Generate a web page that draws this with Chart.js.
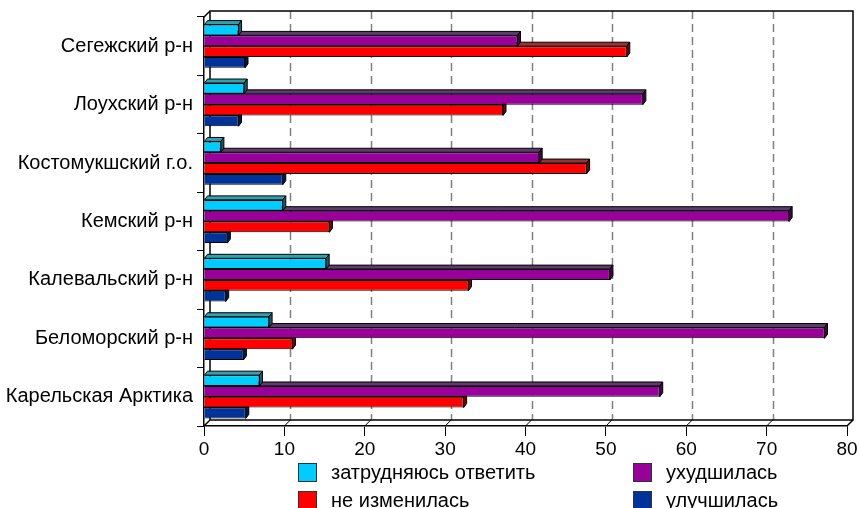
<!DOCTYPE html>
<html>
<head>
<meta charset="utf-8">
<script src="https://cdn.jsdelivr.net/npm/chart.js@4"></script>
<style>
  body { margin: 0; background: #fff; }
  #wrap { position: relative; width: 860px; height: 508px; }
  canvas { display: block; }
  #legend { position: absolute; left: 0; top: 0; font-family: "Liberation Sans", Arial, sans-serif; font-size: 20px; color: #000; }
  .item { position: absolute; display: flex; align-items: center; white-space: nowrap; height: 19px; }
  .box { width: 19px; height: 19px; box-sizing: border-box; border: 1.5px solid #333; margin-right: 14px; }
</style>
</head>
<body>
<div id="wrap">
  <canvas id="chart" width="860" height="508"></canvas>
  <div id="legend"></div>
</div>
<script>
const regions = ['Сегежский р-н', 'Лоухский р-н', 'Костомукшский г.о.', 'Кемский р-н', 'Калевальский р-н', 'Беломорский р-н', 'Карельская Арктика'];

const hardToSay = [4.3, 5.0, 2.1, 9.8, 15.2, 8.1, 6.9];
const worse = [39.0, 54.6, 41.7, 72.8, 50.5, 77.2, 56.7];
const same = [52.6, 37.2, 47.6, 15.6, 32.9, 11.0, 32.3];
const better = [5.1, 4.3, 9.8, 2.9, 2.7, 4.9, 5.2];

const xTicks = [0, 10, 20, 30, 40, 50, 60, 70, 80];

const series = [
    { label: 'затрудняюсь ответить', data: hardToSay, color: '#00CCFF', top: '#33A0B0', side: '#006680' },
    { label: 'ухудшилась', data: worse, color: '#990099', top: '#5E3B6E', side: '#4D004D' },
    { label: 'не изменилась', data: same, color: '#FF0000', top: '#993333', side: '#800000' },
    { label: 'улучшилась', data: better, color: '#003399', top: '#1F2E66', side: '#001A4D' }
];

// offsets for the fake 3d look
const WALL_DX = 6, WALL_DY = -6;
const BAR_DX = 3, BAR_DY = -4;

const depthPlugin = {
    id: 'depth',
    beforeDatasetsDraw(chart) {
        const ctx = chart.ctx;
        const area = chart.chartArea;
        const xs = chart.scales.x;
        ctx.save();

        // dashed grid lines on the back wall
        ctx.strokeStyle = '#808080';
        ctx.lineWidth = 1.5;
        ctx.setLineDash([8, 5]);
        xTicks.slice(1, -1).forEach(v => {
            const px = Math.round(xs.getPixelForValue(v)) + WALL_DX + 0.5;
            ctx.beginPath();
            ctx.moveTo(px, area.top + WALL_DY);
            ctx.lineTo(px, area.bottom + WALL_DY);
            ctx.stroke();
        });
        ctx.setLineDash([]);

        // back wall frame
        ctx.strokeStyle = '#000';
        ctx.lineWidth = 1.5;
        const l = area.left + WALL_DX, r = area.right + WALL_DX;
        const t = area.top + WALL_DY, b = area.bottom + WALL_DY;
        ctx.beginPath();
        ctx.moveTo(l, b); ctx.lineTo(l, t); ctx.lineTo(r, t); ctx.lineTo(r, b); ctx.lineTo(l, b);
        ctx.moveTo(area.left, area.top); ctx.lineTo(l, t);
        ctx.moveTo(area.left, area.bottom); ctx.lineTo(l, b);
        ctx.moveTo(area.right, area.bottom); ctx.lineTo(r, b);
        ctx.stroke();

        // floor tick diagonals
        ctx.lineWidth = 1;
        xTicks.slice(1, -1).forEach(v => {
            const px = xs.getPixelForValue(v);
            ctx.beginPath();
            ctx.moveTo(px, area.bottom);
            ctx.lineTo(px + WALL_DX, area.bottom + WALL_DY);
            ctx.stroke();
        });

        // top and side faces of the bars, bottom series first
        ctx.lineWidth = 1;
        for (let d = series.length - 1; d >= 0; d--) {
            const meta = chart.getDatasetMeta(d);
            meta.data.forEach(el => {
                const left = Math.min(el.base, el.x), right = Math.max(el.base, el.x);
                const top = el.y - el.height / 2, bottom = el.y + el.height / 2;
                ctx.fillStyle = series[d].top;
                ctx.beginPath();
                ctx.moveTo(left, top);
                ctx.lineTo(left + BAR_DX, top + BAR_DY);
                ctx.lineTo(right + BAR_DX, top + BAR_DY);
                ctx.lineTo(right, top);
                ctx.closePath();
                ctx.fill(); ctx.stroke();
                ctx.fillStyle = series[d].side;
                ctx.beginPath();
                ctx.moveTo(right, top);
                ctx.lineTo(right + BAR_DX, top + BAR_DY);
                ctx.lineTo(right + BAR_DX, bottom + BAR_DY);
                ctx.lineTo(right, bottom);
                ctx.closePath();
                ctx.fill(); ctx.stroke();
            });
        }
        ctx.restore();
    }
};

const family = '"Liberation Sans", Arial, sans-serif';

new Chart(document.getElementById('chart'), {
    type: 'bar',
    data: {
        labels: regions,
        datasets: series.map(s => ({
            label: s.label,
            data: s.data,
            backgroundColor: s.color,
            borderColor: '#000',
            borderWidth: 1,
            categoryPercentage: 0.74,
            barPercentage: 1
        }))
    },
    options: {
        indexAxis: 'y',
        responsive: false,
        animation: false,
        layout: { padding: { left: 0, right: 13, top: 17, bottom: 52 } },
        plugins: { legend: { display: false }, tooltip: { enabled: false } },
        scales: {
            x: {
                min: 0,
                max: 80,
                afterBuildTicks(scale) { scale.ticks = xTicks.map(v => ({ value: v })); },
                afterFit(scale) { scale.height = 30; },
                grid: { drawOnChartArea: false, drawTicks: true, tickLength: 10, color: '#000', lineWidth: 1 },
                border: { color: '#000', width: 1.5 },
                ticks: { color: '#000', font: { family: family, size: 19 }, padding: 2, maxRotation: 0 }
            },
            y: {
                afterFit(scale) { scale.width = 204; },
                grid: { drawOnChartArea: false, drawTicks: true, tickLength: 7, color: '#000', lineWidth: 1 },
                border: { color: '#000', width: 1.5 },
                ticks: { color: '#000', font: { family: family, size: 20 }, padding: 4 }
            }
        }
    },
    plugins: [depthPlugin]
});

// legend in two columns below the plot
const legendPos = [[298, 463], [633, 463], [298, 491], [633, 491]];
const legend = document.getElementById('legend');
series.forEach((s, i) => {
    const item = document.createElement('div');
    item.className = 'item';
    item.style.left = legendPos[i][0] + 'px';
    item.style.top = legendPos[i][1] + 'px';
    const box = document.createElement('span');
    box.className = 'box';
    box.style.background = s.color;
    const txt = document.createElement('span');
    txt.textContent = s.label;
    item.appendChild(box);
    item.appendChild(txt);
    legend.appendChild(item);
});
</script>
</body>
</html>
